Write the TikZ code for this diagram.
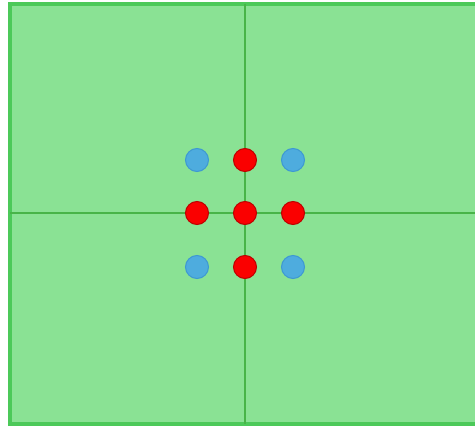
\documentclass[tikz,border=0pt]{standalone}
\usepackage{tikz}
\usetikzlibrary{positioning}
\definecolor{fieldgreen}{RGB}{138,226,148}
\definecolor{edgegreen}{RGB}{76,201,89}
\definecolor{linegreen}{RGB}{72,180,72}
\definecolor{dotblue}{RGB}{78,172,222}
\definecolor{dotblueedge}{RGB}{62,152,210}
\definecolor{dotred}{RGB}{250,0,0}
\definecolor{dotrededge}{RGB}{190,0,0}
\tikzset{
  bluedot/.style={circle, fill=dotblue, draw=dotblueedge, line width=1pt, minimum size=23pt, inner sep=0pt},
  reddot/.style={circle, fill=dotred, draw=dotrededge, line width=1pt, minimum size=23pt, inner sep=0pt}
}
\begin{document}
\begin{tikzpicture}[x=1pt, y=-1pt]
        \useasboundingbox (0,0) rectangle (475,428);
        \clip (0,0) rectangle (475,428);
        \path
        (10,4) coordinate (nw)
        (485,424) coordinate (se)
        (245,4) coordinate (top)
        (245,424) coordinate (bottom)
        (10,213) coordinate (left)
        (485,213) coordinate (right)
        ;

        \draw[fill=fieldgreen, draw=edgegreen, line width=4pt] (nw) rectangle (se);
        \draw[linegreen, line width=1.5pt] (top) -- (bottom);
        \draw[linegreen, line width=1.5pt] (left) -- (right);

        % outer corners
        \node[bluedot] (b1) at (197,160) {};
        \node[bluedot] (b2) at (293,160) {};
        \node[bluedot] (b3) at (197,267) {};
        \node[bluedot] (b4) at (293,267) {};

        % cross
        \node[reddot] (r1) at (245,160) {};
        \node[reddot] (r2) at (197,213) {};
        \node[reddot] (r3) at (245,213) {};
        \node[reddot] (r4) at (293,213) {};
        \node[reddot] (r5) at (245,267) {};
\end{tikzpicture}
\end{document}
